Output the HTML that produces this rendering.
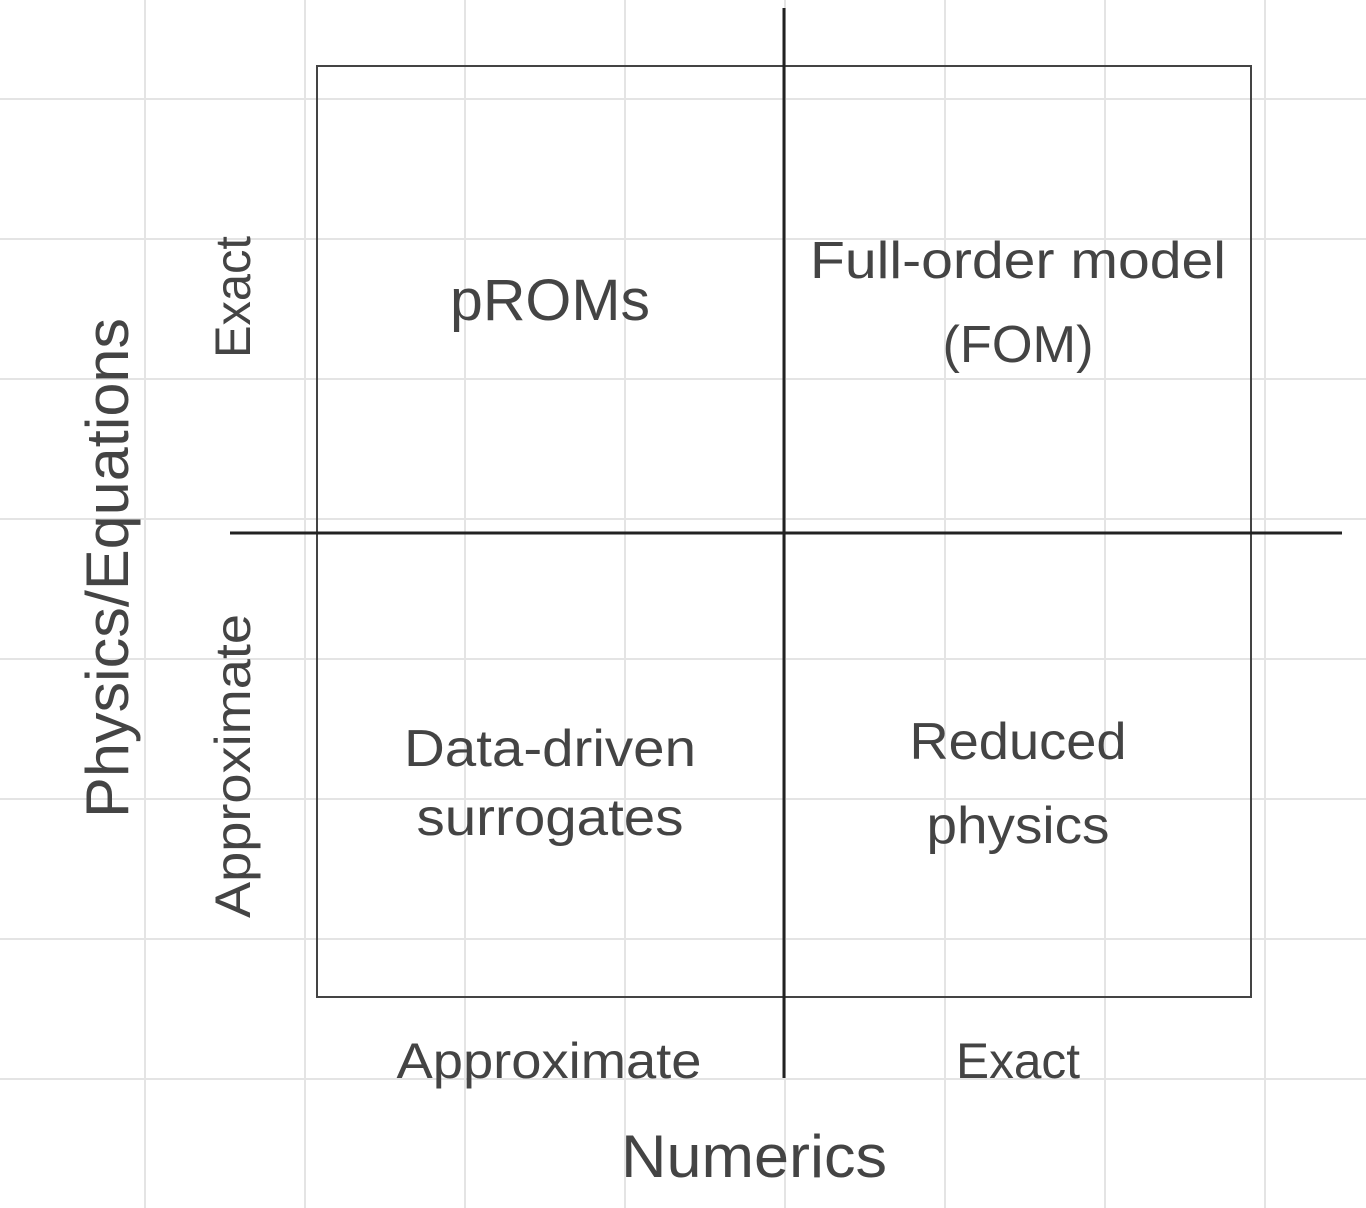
<!DOCTYPE html>
<html><head><meta charset="utf-8"><style>html,body{margin:0;padding:0;background:#fff}svg{display:block}</style></head>
<body>
<svg width="1366" height="1208" viewBox="0 0 1366 1208" xmlns="http://www.w3.org/2000/svg">
<g stroke="#e4e4e4" stroke-width="2">
<line x1="145" y1="0" x2="145" y2="1208"/><line x1="305" y1="0" x2="305" y2="1208"/><line x1="465" y1="0" x2="465" y2="1208"/><line x1="625" y1="0" x2="625" y2="1208"/><line x1="785" y1="0" x2="785" y2="1208"/><line x1="945" y1="0" x2="945" y2="1208"/><line x1="1105" y1="0" x2="1105" y2="1208"/><line x1="1265" y1="0" x2="1265" y2="1208"/>
<line x1="0" y1="99" x2="1366" y2="99"/><line x1="0" y1="239" x2="1366" y2="239"/><line x1="0" y1="379" x2="1366" y2="379"/><line x1="0" y1="519" x2="1366" y2="519"/><line x1="0" y1="659" x2="1366" y2="659"/><line x1="0" y1="799" x2="1366" y2="799"/><line x1="0" y1="939" x2="1366" y2="939"/><line x1="0" y1="1079" x2="1366" y2="1079"/>
</g>
<rect x="317" y="66" width="934" height="931" fill="none" stroke="#444" stroke-width="2"/>
<line x1="230" y1="533" x2="1342" y2="533" stroke="#222" stroke-width="3"/>
<line x1="784" y1="8" x2="784" y2="1078" stroke="#222" stroke-width="3"/>
<g font-family="Liberation Sans, sans-serif" fill="#444" text-anchor="middle" lengthAdjust="spacingAndGlyphs">
<text x="550" y="320" font-size="58" textLength="200" lengthAdjust="spacingAndGlyphs">pROMs</text>
<text x="1018" y="278" font-size="52" textLength="416" lengthAdjust="spacingAndGlyphs">Full-order model</text>
<text x="1018" y="362" font-size="52" textLength="151" lengthAdjust="spacingAndGlyphs">(FOM)</text>
<text x="550" y="766" font-size="52" textLength="292" lengthAdjust="spacingAndGlyphs">Data-driven</text>
<text x="550" y="835" font-size="52" textLength="267" lengthAdjust="spacingAndGlyphs">surrogates</text>
<text x="1018" y="759" font-size="52" textLength="217" lengthAdjust="spacingAndGlyphs">Reduced</text>
<text x="1018" y="843" font-size="52" textLength="183" lengthAdjust="spacingAndGlyphs">physics</text>
<text x="549" y="1078" font-size="50" textLength="305" lengthAdjust="spacingAndGlyphs">Approximate</text>
<text x="1018" y="1078" font-size="50" textLength="124" lengthAdjust="spacingAndGlyphs">Exact</text>
<text x="754" y="1177" font-size="60" textLength="266" lengthAdjust="spacingAndGlyphs">Numerics</text>
<text transform="translate(128,568) rotate(-90)" font-size="60" textLength="500" lengthAdjust="spacingAndGlyphs">Physics/Equations</text>
<text transform="translate(250,297) rotate(-90)" font-size="50" textLength="122" lengthAdjust="spacingAndGlyphs">Exact</text>
<text transform="translate(250,766) rotate(-90)" font-size="50" textLength="304" lengthAdjust="spacingAndGlyphs">Approximate</text>
</g>
</svg>
</body></html>
